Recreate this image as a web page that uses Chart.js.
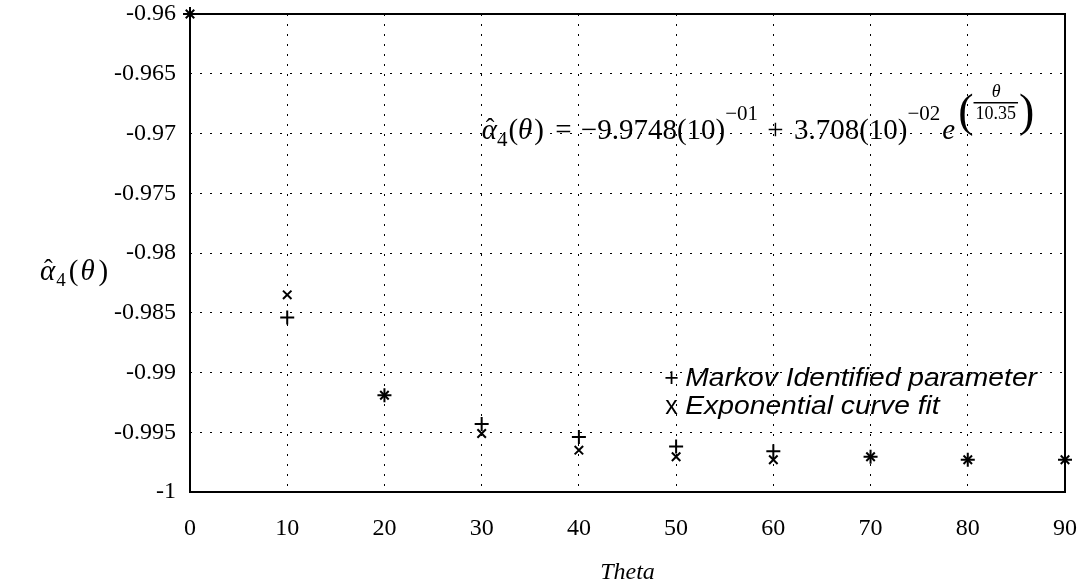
<!DOCTYPE html>
<html lang="en">
<head>
  <meta charset="UTF-8" />
  <title>alpha4 vs theta</title>
  <script src="https://cdn.jsdelivr.net/npm/chart.js"></script>
  <style>
    html, body { margin: 0; padding: 0; background: #fff; }
    #wrap { width: 1086px; height: 587px; position: relative; }
  </style>
</head>
<body>
  <div id="wrap"><canvas id="alphaChart"></canvas></div>

  <script>
    // values
    const theta = [0, 10, 20, 30, 40, 50, 60, 70, 80, 90];
    const markov = [-0.9600, -0.9854, -0.9919, -0.9943, -0.9954, -0.9962, -0.9966, -0.99705, -0.9973, -0.9973];
    const expFit = [-0.9600, -0.9835, -0.9919, -0.9951, -0.9965, -0.99705, -0.9973, -0.99705, -0.9973, -0.9973];
    const yTicks = [-0.96, -0.965, -0.97, -0.975, -0.98, -0.985, -0.99, -0.995, -1];
    const legendLabels = ['Markov Identified parameter', 'Exponential curve fit'];

    const serif = "'Liberation Serif', 'Times New Roman', serif";
    const sans = "'Liberation Sans', Arial, sans-serif";

    const toPts = ys => theta.map((t, i) => ({ x: t, y: ys[i] }));

    // frame, y label, equation and legend
    const decorations = {
      id: 'decorations',
      beforeDatasetsDraw(chart) {
        const { ctx, chartArea: a } = chart;
        ctx.save();
        ctx.strokeStyle = '#000';
        ctx.lineWidth = 2;
        ctx.strokeRect(a.left, a.top, a.right - a.left, a.bottom - a.top);
        ctx.restore();
      },
      afterDraw(chart) {
        const { ctx, scales } = chart;
        ctx.save();
        ctx.fillStyle = '#000';
        ctx.textBaseline = 'alphabetic';

        let x, y;
        const put = (txt, font, dy, gap) => {
          x += gap || 0;
          ctx.font = font;
          ctx.fillText(txt, x, y + (dy || 0));
          x += ctx.measureText(txt).width;
        };
        const alphaHat = size => {
          ctx.font = 'italic ' + size + 'px ' + serif;
          ctx.fillText('α', x, y);
          const w = ctx.measureText('α').width;
          ctx.font = Math.round(size * 0.9) + 'px ' + serif;
          ctx.fillText('ˆ', x + 4, y - 3);
          x += w;
        };

        // y axis label: alpha-hat_4(theta)
        x = 40; y = 280;
        alphaHat(29);
        put('4', '19px ' + serif, 6, 1);
        put('(', '29px ' + serif, 0, 3);
        put('θ', 'italic 29px ' + serif, 0, 2);
        put(')', '29px ' + serif, 0, 4);

        // fitted equation
        x = scales.x.getPixelForValue(30);
        y = scales.y.getPixelForValue(-0.97046);
        const base = '29px ' + serif, ital = 'italic 29px ' + serif, sup = '21px ' + serif;
        alphaHat(29);
        put('4', sup, 7);
        put('(', base, 0, 1);
        put('θ', ital);
        put(')', base, 0, 2);
        put(' = ', base, 0, 4);
        put('−9.9748(10)', base, 0, 2);
        put('−01', sup, -19);
        put(' + ', base, 0, 2);
        put('3.708(10)', base, 0, 3);
        put('−02', sup, -19);
        put('e', ital, 0, 2);
        // exponent: big parentheses with theta / 10.35
        put('(', '46px ' + serif, -13, 3);
        x += 2;
        ctx.font = '18px ' + serif;
        const fw = ctx.measureText('10.35').width;
        ctx.font = 'italic 18px ' + serif;
        ctx.fillText('θ', x + fw / 2 - 4, y - 42);
        ctx.fillRect(x - 2, y - 37, fw + 4, 1.5);
        ctx.font = '18px ' + serif;
        ctx.fillText('10.35', x, y - 20);
        x += fw + 3;
        put(')', '46px ' + serif, -13);

        // legend inside the plot (scanned text is a bit wide, stretch it)
        const lx = scales.x.getPixelForValue(49.4);
        const ly1 = scales.y.getPixelForValue(-0.99113);
        const ly2 = scales.y.getPixelForValue(-0.99347);
        ctx.font = '25px ' + sans;
        ctx.fillText('+', lx - 6, ly1);
        ctx.fillText('x', lx - 5, ly2);
        ctx.font = 'italic 25px ' + sans;
        ctx.translate(lx + 15, 0);
        ctx.scale(1.13, 1);
        ctx.fillText(legendLabels[0], 0, ly1);
        ctx.fillText(legendLabels[1], 0, ly2);
        ctx.restore();
      }
    };

    const ctxAlpha = document.getElementById('alphaChart').getContext('2d');
    const alphaChart = new Chart(ctxAlpha, {
      type: 'scatter',
      data: {
        datasets: [
          {
            label: legendLabels[0],
            data: toPts(markov),
            pointStyle: 'cross',
            pointRadius: 7,
            borderColor: '#000',
            backgroundColor: '#000',
            pointBorderWidth: 2,
            clip: false,
          },
          {
            label: legendLabels[1],
            data: toPts(expFit),
            pointStyle: 'crossRot',
            pointRadius: 6,
            borderColor: '#000',
            backgroundColor: '#000',
            pointBorderWidth: 2,
            clip: false,
          },
        ],
      },
      options: {
        responsive: true,
        maintainAspectRatio: false,
        animation: false,
        layout: { autoPadding: false, padding: { left: 0, right: 21, top: 14, bottom: 0 } },
        plugins: {
          legend: { display: false },
          tooltip: { enabled: false },
        },
        scales: {
          x: {
            type: 'linear',
            min: 0,
            max: 90,
            afterFit: s => { s.height = 95; s.paddingLeft = 0; s.paddingRight = 0; },
            ticks: {
              stepSize: 10,
              padding: 22,
              color: '#000',
              font: { family: serif, size: 24 },
            },
            grid: { color: '#000', lineWidth: 1, drawTicks: false },
            border: { display: false, dash: [2, 8] },
            title: {
              display: true,
              text: 'Theta',
              color: '#000',
              font: { family: serif, size: 24, style: 'italic' },
              padding: { top: 0, bottom: 0 },
            },
          },
          y: {
            min: -1,
            max: -0.96,
            afterFit: s => { s.width = 190; s.paddingTop = 0; s.paddingBottom = 0; },
            afterBuildTicks: s => { s.ticks = yTicks.map(v => ({ value: v })); },
            ticks: {
              padding: 14,
              color: '#000',
              font: { family: serif, size: 24 },
              callback: v => String(Number(v.toFixed(3))),
            },
            grid: { color: '#000', lineWidth: 1, drawTicks: false },
            border: { display: false, dash: [2, 8] },
          },
        },
      },
      plugins: [decorations],
    });
  </script>
</body>
</html>
